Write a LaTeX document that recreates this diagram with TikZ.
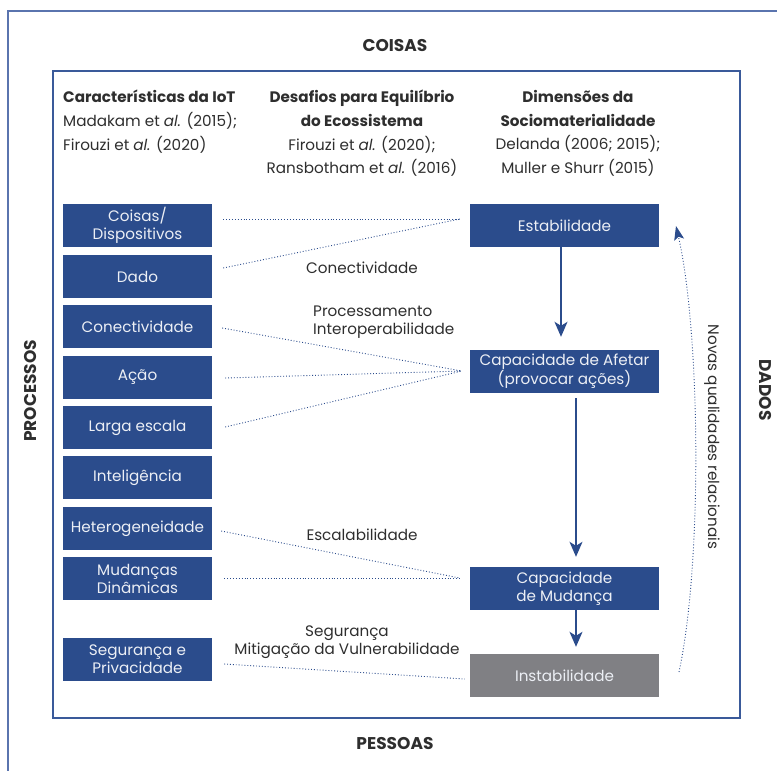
\documentclass[tikz,border=0pt]{standalone}
\usepackage{fontspec}
\setmainfont{Poppins}
\usetikzlibrary{arrows.meta}
\definecolor{boxblue}{HTML}{2B4C8C}
\definecolor{boxgray}{HTML}{808084}
\definecolor{framec}{HTML}{5A74AE}
\definecolor{innerc}{HTML}{3A5A9A}
\definecolor{txt}{HTML}{2E2E2E}
\definecolor{boxtxt}{HTML}{ECEFF5}
\tikzset{
  lbox/.style={fill=boxblue, text=boxtxt, minimum width=149pt, minimum height=43pt, inner sep=0pt, align=center, font=\fontsize{15.2}{18}\selectfont},
  rbox/.style={lbox, minimum width=189pt},
  gbox/.style={rbox, fill=boxgray},
  link/.style={boxblue, line width=0.9pt, dotted},
  flow/.style={boxblue, line width=1.5pt, -{Stealth[length=15pt,width=13pt,inset=4pt]}},
  lab/.style={text=txt, font=\fontsize{15.2}{18}\selectfont, inner sep=0pt},
  head/.style={text=txt, font=\fontsize{15.2}{23.7}\selectfont, inner sep=0pt},
  side/.style={text=txt, font=\bfseries\fontsize{17}{18}\selectfont, inner sep=0pt}
}
\begin{document}
\begin{tikzpicture}[x=1pt,y=-1pt]
\useasboundingbox (0,0) rectangle (777,771);
% frames
\draw[framec, line width=1.8pt] (8,771) -- (8,11) -- (777,11);
\draw[innerc, line width=1.2pt] (53,71) rectangle (740,718);
% side labels
\node[side] (coisas) at (395,46) {COISAS};
\node[side] (pessoas) at (395,744) {PESSOAS};
\node[side, rotate=90] (processos) at (31,391) {PROCESSOS};
\node[side, rotate=-90] (dados) at (765,390) {DADOS};
% headers
\node[head, anchor=north west, align=left] (h1) at (63,90)
  {\textbf{Características da IoT}\\Madakam et \textit{al.} (2015);\\Firouzi et \textit{al.} (2020)};
\node[head, anchor=north, align=center] (h2) at (362,90)
  {\textbf{Desafios para Equilíbrio}\\\textbf{do Ecossistema}\\Firouzi et \textit{al.} (2020);\\Ransbotham et \textit{al.} (2016)};
\node[head, anchor=north, align=center] (h3) at (578,90)
  {\textbf{Dimensões da}\\\textbf{Sociomaterialidade}\\Delanda (2006; 2015);\\Muller e Shurr (2015)};
% left boxes
\node[lbox] (c1) at (137.5,225.5) {Coisas/\\Dispositivos};
\node[lbox] (c2) at (137.5,276.5) {Dado};
\node[lbox] (c3) at (137.5,326.5) {Conectividade};
\node[lbox] (c4) at (137.5,377.5) {Ação};
\node[lbox] (c5) at (137.5,427.5) {Larga escala};
\node[lbox] (c6) at (137.5,477.5) {Inteligência};
\node[lbox] (c7) at (137.5,528.5) {Heterogeneidade};
\node[lbox] (c8) at (137.5,578.5) {Mudanças\\Dinâmicas};
\node[lbox] (c9) at (137.5,659.5) {Segurança e\\Privacidade};
% right boxes
\node[rbox] (est) at (564.5,225.5) {Estabilidade};
\node[rbox] (afe) at (564.5,371.5) {Capacidade de Afetar\\(provocar ações)};
\node[rbox] (mud) at (564.5,588.5) {Capacidade\\de Mudança};
\node[gbox] (ins) at (564.5,675.5) {Instabilidade};
% dotted links
\draw[link] ([shift={(11,-6.5)}]c1.east) -- ([shift={(-10,-6.5)}]est.west);
\draw[link] ([shift={(11,-8.5)}]c2.east) -- ([shift={(-10,-6.5)}]est.west);
\draw[link] ([shift={(10,1.5)}]c3.east) -- ([shift={(-8,-0.5)}]afe.west);
\draw[link] ([shift={(13,0.5)}]c4.east) -- ([shift={(-8,-0.5)}]afe.west);
\draw[link] ([shift={(13,-0.5)}]c5.east) -- ([shift={(-8,-0.5)}]afe.west);
\draw[link] ([shift={(9,2.5)}]c7.east) -- ([shift={(-10,-10.5)}]mud.west);
\draw[link] ([shift={(12,-0.5)}]c8.east) -- ([shift={(-10,-10.5)}]mud.west);
\draw[link] ([shift={(12,4.5)}]c9.east) -- ([shift={(-5,3.5)}]ins.west);
% link labels
\node[lab] (l1) at (362,268) {Conectividade};
\node[lab, anchor=west, align=left] (l2) at (313,322) {Processamento\\Interoperabilidade};
\node[lab] (l3) at (362,535) {Escalabilidade};
\node[lab, align=center] (l4) at (347,642) {Segurança\\Mitigação da Vulnerabilidade};
% flow arrows
\draw[flow] ([xshift=-3.5pt]est.south) -- ([xshift=-3.5pt,yshift=13pt]afe.north);
\draw[flow] ([xshift=11.5pt,yshift=-5pt]afe.south) -- ([xshift=11.5pt,yshift=10pt]mud.north);
\draw[flow] ([xshift=11.5pt]mud.south) -- ([xshift=11.5pt,yshift=7pt]ins.north);
% feedback arrow
\coordinate (fb1) at (679,672);
\coordinate (fb2) at (676,226);
\draw[boxblue, line width=0.9pt, dotted, -{Stealth[length=14pt,width=10pt,inset=3pt]}] (fb1) .. controls (703,560) and (700,330) .. (fb2);
\node[lab, rotate=-90] (nq) at (712,437) {Novas qualidades relacionais};
\end{tikzpicture}
\end{document}
